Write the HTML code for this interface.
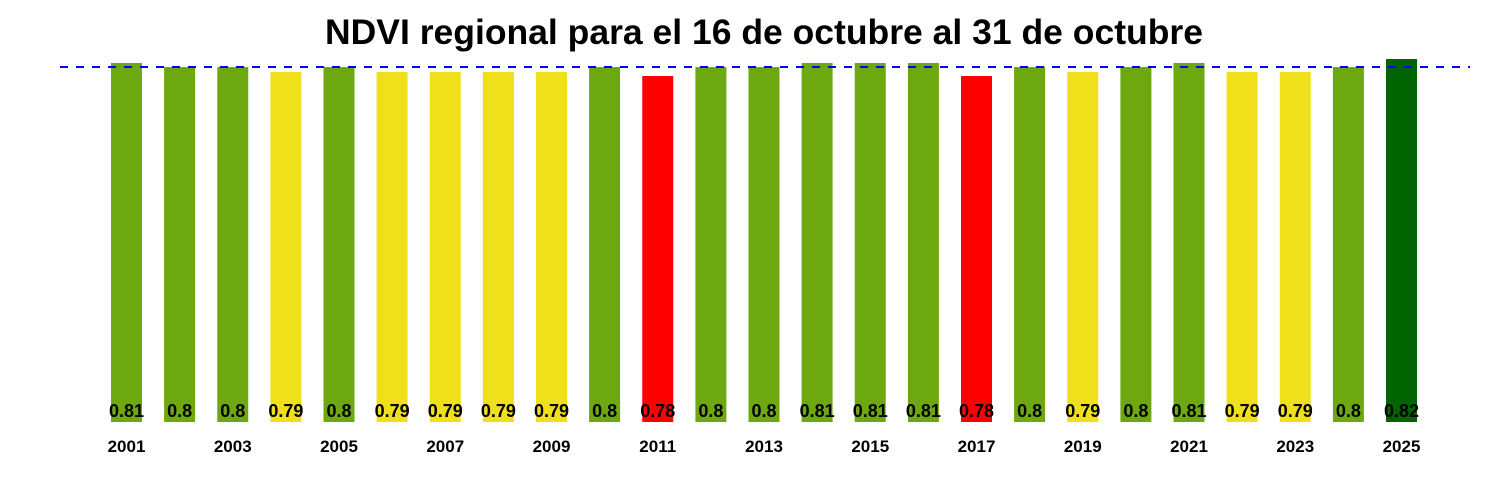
<!DOCTYPE html>
<html><head><meta charset="utf-8"><style>body{margin:0;background:#fff}svg{display:block}</style></head>
<body>
<svg width="1500" height="500" xmlns="http://www.w3.org/2000/svg" font-family="Liberation Sans, sans-serif" font-weight="bold">
<rect width="1500" height="500" fill="#fff"/>
<text x="764" y="44" font-size="35.5" text-anchor="middle">NDVI regional para el 16 de octubre al 31 de octubre</text>
<g>
<rect x="111" y="63" width="31" height="359" fill="#6ea810"/>
<rect x="164.1" y="67" width="31" height="355" fill="#6ea810"/>
<rect x="217.25" y="67" width="31" height="355" fill="#6ea810"/>
<rect x="270.4" y="72" width="31" height="350" fill="#f0e01c"/>
<rect x="323.5" y="67" width="31" height="355" fill="#6ea810"/>
<rect x="376.6" y="72" width="31" height="350" fill="#f0e01c"/>
<rect x="429.75" y="72" width="31" height="350" fill="#f0e01c"/>
<rect x="482.9" y="72" width="31" height="350" fill="#f0e01c"/>
<rect x="536" y="72" width="31" height="350" fill="#f0e01c"/>
<rect x="589.1" y="67" width="31" height="355" fill="#6ea810"/>
<rect x="642.25" y="76" width="31" height="346" fill="#ff0000"/>
<rect x="695.4" y="67" width="31" height="355" fill="#6ea810"/>
<rect x="748.5" y="67" width="31" height="355" fill="#6ea810"/>
<rect x="801.6" y="63" width="31" height="359" fill="#6ea810"/>
<rect x="854.75" y="63" width="31" height="359" fill="#6ea810"/>
<rect x="907.9" y="63" width="31" height="359" fill="#6ea810"/>
<rect x="961" y="76" width="31" height="346" fill="#ff0000"/>
<rect x="1014.1" y="67" width="31" height="355" fill="#6ea810"/>
<rect x="1067.25" y="72" width="31" height="350" fill="#f0e01c"/>
<rect x="1120.4" y="67" width="31" height="355" fill="#6ea810"/>
<rect x="1173.5" y="63" width="31" height="359" fill="#6ea810"/>
<rect x="1226.6" y="72" width="31" height="350" fill="#f0e01c"/>
<rect x="1279.75" y="72" width="31" height="350" fill="#f0e01c"/>
<rect x="1332.9" y="67" width="31" height="355" fill="#6ea810"/>
<rect x="1386" y="59" width="31" height="363" fill="#006400"/>
</g>
<line x1="60" y1="67" x2="1470" y2="67" stroke="#0000ff" stroke-width="2" stroke-dasharray="8,8"/>
<g font-size="18" text-anchor="middle">
<text x="126.5" y="417">0.81</text>
<text x="179.6" y="417">0.8</text>
<text x="232.75" y="417">0.8</text>
<text x="285.9" y="417">0.79</text>
<text x="339" y="417">0.8</text>
<text x="392.1" y="417">0.79</text>
<text x="445.25" y="417">0.79</text>
<text x="498.4" y="417">0.79</text>
<text x="551.5" y="417">0.79</text>
<text x="604.6" y="417">0.8</text>
<text x="657.75" y="417">0.78</text>
<text x="710.9" y="417">0.8</text>
<text x="764" y="417">0.8</text>
<text x="817.1" y="417">0.81</text>
<text x="870.25" y="417">0.81</text>
<text x="923.4" y="417">0.81</text>
<text x="976.5" y="417">0.78</text>
<text x="1029.6" y="417">0.8</text>
<text x="1082.75" y="417">0.79</text>
<text x="1135.9" y="417">0.8</text>
<text x="1189" y="417">0.81</text>
<text x="1242.1" y="417">0.79</text>
<text x="1295.25" y="417">0.79</text>
<text x="1348.4" y="417">0.8</text>
<text x="1401.5" y="417">0.82</text>
</g>
<g font-size="17" text-anchor="middle">
<text x="126.5" y="452">2001</text>
<text x="232.75" y="452">2003</text>
<text x="339" y="452">2005</text>
<text x="445.25" y="452">2007</text>
<text x="551.5" y="452">2009</text>
<text x="657.75" y="452">2011</text>
<text x="764" y="452">2013</text>
<text x="870.25" y="452">2015</text>
<text x="976.5" y="452">2017</text>
<text x="1082.75" y="452">2019</text>
<text x="1189" y="452">2021</text>
<text x="1295.25" y="452">2023</text>
<text x="1401.5" y="452">2025</text>
</g>
</svg>
</body></html>
